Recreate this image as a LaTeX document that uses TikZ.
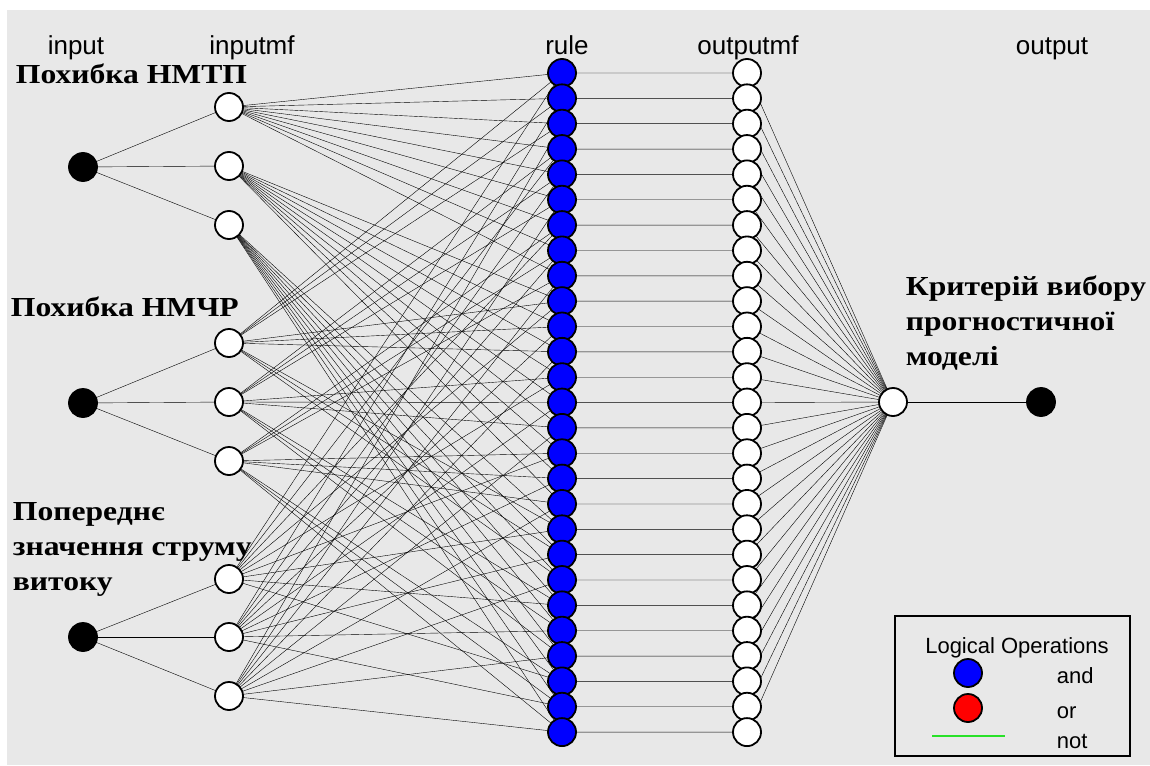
\documentclass[tikz,border=0pt]{standalone}
\usepackage{fontspec}
\setmainfont{Liberation Serif}
\setsansfont{Liberation Sans}
\newfontfamily\labelfont{Liberation Serif}[FakeStretch=1.15]
\usetikzlibrary{backgrounds}
\definecolor{notgreen}{RGB}{40,225,40}

\begin{document}
\begin{tikzpicture}
	[x=1pt, y=-1pt, line width=1.8pt,
	 inp/.style={circle, draw, fill=black, minimum size=28pt, inner sep=0pt},
	 mf/.style={circle, draw, fill=white, minimum size=28pt, inner sep=0pt},
	 rul/.style={circle, draw, fill=blue, minimum size=28pt, inner sep=0pt},
	 head/.style={font=\sffamily\fontsize{26}{30}\selectfont, anchor=base},
	 legtext/.style={font=\sffamily\fontsize{22}{26}\selectfont, anchor=base west, inner sep=0pt},
	 varname/.style={font=\labelfont\bfseries\fontsize{27.5}{35}\selectfont, align=left, anchor=north west, inner sep=0pt}]
	\useasboundingbox (0,0) rectangle (1150,765);
	% layer headings
	\node[head] (hin) at (76,55) {input};
	\node[head] (hinmf) at (252,55) {inputmf};
	\node[head] (hrule) at (567,55) {rule};
	\node[head] (houtmf) at (748,55) {outputmf};
	\node[head] (hout) at (1052,55) {output};
	% inputs and their mfs
	\node[inp] (in1) at (83,167) {};
	\node[inp] (in2) at (83,403) {};
	\node[inp] (in3) at (83,637) {};
	\foreach \i/\y in {1/107,2/166,3/225} \node[mf] (mfa\i) at (229,\y) {};
	\foreach \i/\y in {1/343,2/402,3/461} \node[mf] (mfb\i) at (229,\y) {};
	\foreach \i/\y in {1/579,2/637,3/696} \node[mf] (mfc\i) at (229,\y) {};
	% rules and output mfs
	\foreach \r in {1,...,27} {
		\node[rul] (r\r) at (562,{73+25.35*(\r-1)}) {};
		\node[mf] (om\r) at (747,{73+25.35*(\r-1)}) {};
	}
	\node[mf] (omf) at (893,402) {};
	\node[inp] (out) at (1041,402) {};
	% connections
	\begin{scope}[on background layer]
		\fill[gray!18] (7,10) rectangle (1150,765);
		\foreach \j in {1,2,3} {
			\draw (in1.center) -- (mfa\j.center);
			\draw (in2.center) -- (mfb\j.center);
			\draw (in3.center) -- (mfc\j.center);
		}
		\foreach \r in {1,...,27} {
			\pgfmathtruncatemacro\a{div(\r-1,9)+1}
			\pgfmathtruncatemacro\b{mod(div(\r-1,3),3)+1}
			\pgfmathtruncatemacro\c{mod(\r-1,3)+1}
			\draw (mfa\a.center) -- (r\r.center);
			\draw (mfb\b.center) -- (r\r.center);
			\draw (mfc\c.center) -- (r\r.center);
			\draw (r\r.center) -- (om\r.center) -- (omf.center);
		}
		\draw (omf.center) -- (out.center);
	\end{scope}
	% variable names
	\node[varname] (v1) at (15,63) {Похибка НМТП};
	\node[varname] (v2) at (10,296) {Похибка НМЧР};
	\node[varname] (v3) at (12,502) {Попереднє\\значення струму\\витоку};
	\node[varname] (v4) at (905,275) {Критерій вибору\\прогностичної\\моделі};
	% legend
	\draw[line width=1.5pt] (895,616) rectangle (1130,756);
	\node[font=\sffamily\fontsize{22}{26}\selectfont, anchor=base] (lgtitle) at (1017,653) {Logical Operations};
	\node[rul] (lgand) at (968,673) {};
	\node[rul, fill=red] (lgor) at (968,708) {};
	\coordinate (ng1) at (932,736);
	\coordinate (ng2) at (1005,736);
	\draw[notgreen, line width=2pt] (ng1) -- (ng2);
	\node[legtext] (tand) at (1056,683) {and};
	\node[legtext] (tor) at (1056,718) {or};
	\node[legtext] (tnot) at (1056,748) {not};
\end{tikzpicture}
\end{document}
